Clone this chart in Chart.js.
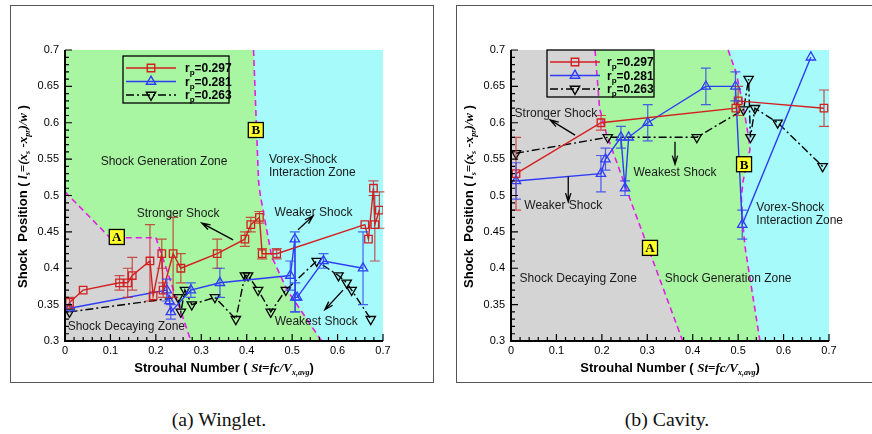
<!DOCTYPE html>
<html>
<head>
<meta charset="utf-8">
<title>Shock position vs Strouhal number</title>
<script src="https://cdn.jsdelivr.net/npm/chart.js@4.4.1/dist/chart.umd.min.js"></script>
<style>
  html, body { margin: 0; padding: 0; background: #fff; }
  #page { position: relative; width: 872px; height: 434px; overflow: hidden; }
  canvas { position: absolute; top: 0; }
  #c-winglet { left: 0; }
  #c-cavity { left: 440px; }
  .frame { position: absolute; border: 1.5px solid #555; box-sizing: border-box; }
  .caption { position: absolute; top: 410px; width: 200px; text-align: center; line-height: 22px;
             font: 18px "Liberation Serif", "Times New Roman", serif; color: #111;
             transform: scaleX(1.1); }
</style>
</head>
<body>
<div id="page">
  <div class="frame" style="left:10px;top:5px;width:424px;height:378px"></div>
  <div class="frame" style="left:456px;top:5px;width:430px;height:378px"></div>
  <canvas id="c-winglet" width="440" height="390"></canvas>
  <canvas id="c-cavity" width="432" height="390"></canvas>
  <div class="caption" style="left:119px">(a) Winglet.</div>
  <div class="caption" style="left:567px">(b) Cavity.</div>
</div>
<script>
const FONT  = '"Liberation Sans", Arial, sans-serif';
const SERIF = '"Liberation Serif", "Times New Roman", serif';

const xTicks = [0, 0.1, 0.2, 0.3, 0.4, 0.5, 0.6, 0.7];
const yTicks = [0.3, 0.35, 0.4, 0.45, 0.5, 0.55, 0.6, 0.65, 0.7];
const rpLabels = ['0.297', '0.281', '0.263'];

// ---- (a) winglet ----
const wRedX  = [0.010, 0.040, 0.120, 0.138, 0.148, 0.187, 0.194, 0.213, 0.216, 0.238, 0.255, 0.335, 0.396, 0.409, 0.428, 0.434, 0.466, 0.660, 0.668, 0.679, 0.682, 0.692];
const wRedY  = [0.353, 0.370, 0.380, 0.380, 0.390, 0.410, 0.362, 0.420, 0.370, 0.420, 0.400, 0.420, 0.440, 0.460, 0.470, 0.420, 0.420, 0.460, 0.440, 0.510, 0.460, 0.480];
const wRedLo = [0.345, null, 0.370, 0.360, 0.370, 0.355, null, 0.400, 0.360, 0.360, 0.380, 0.400, 0.430, 0.450, 0.462, 0.413, 0.413, null, null, 0.500, 0.410, 0.455];
const wRedHi = [0.360, null, 0.390, 0.400, 0.415, 0.460, null, 0.440, 0.380, 0.470, 0.420, 0.440, 0.450, 0.470, 0.478, 0.427, 0.427, null, null, 0.520, 0.500, 0.505];

const wBlueX  = [0.010, 0.224, 0.230, 0.233, 0.277, 0.341, 0.496, 0.506, 0.507, 0.511, 0.569, 0.656];
const wBlueY  = [0.345, 0.370, 0.355, 0.340, 0.370, 0.380, 0.390, 0.440, 0.360, 0.360, 0.410, 0.400];
const wBlueLo = [null, 0.355, null, 0.330, 0.360, 0.360, 0.370, 0.340, 0.340, null, 0.400, 0.350];
const wBlueHi = [null, 0.385, null, 0.350, 0.380, 0.400, 0.410, 0.450, 0.380, null, 0.420, 0.450];

const wBlackX = [0.010, 0.249, 0.255, 0.264, 0.279, 0.330, 0.376, 0.396, 0.403, 0.425, 0.453, 0.486, 0.554, 0.602, 0.620, 0.631, 0.673];
const wBlackY = [0.340, 0.360, 0.340, 0.370, 0.350, 0.360, 0.330, 0.390, 0.390, 0.370, 0.340, 0.370, 0.410, 0.390, 0.380, 0.370, 0.330];

// zone boundaries (dashed lines)
const wLineAX = [0, 0.099, 0.200, 0.277];
const wLineAY = [0.505, 0.442, 0.442, 0.300];
const wLineBX = [0.415, 0.426, 0.430, 0.455, 0.489, 0.554, 0.565];
const wLineBY = [0.700, 0.520, 0.500, 0.416, 0.370, 0.310, 0.300];

// ---- (b) cavity ----
const cRedX  = [0.011, 0.198, 0.495, 0.500, 0.689];
const cRedY  = [0.530, 0.600, 0.620, 0.630, 0.620];
const cRedLo = [0.480, 0.590, null, 0.610, 0.595];
const cRedHi = [0.580, 0.610, null, 0.650, 0.645];

const cBlueX  = [0.011, 0.198, 0.208, 0.242, 0.251, 0.259, 0.301, 0.429, 0.494, 0.509, 0.660];
const cBlueY  = [0.520, 0.530, 0.550, 0.580, 0.510, 0.580, 0.600, 0.650, 0.650, 0.460, 0.690];
const cBlueLo = [0.495, 0.505, 0.535, 0.565, 0.500, null, 0.575, 0.625, 0.630, 0.440, null];
const cBlueHi = [0.545, 0.555, 0.565, 0.595, 0.520, null, 0.625, 0.675, 0.670, 0.480, null];

const cBlackX = [0.011, 0.213, 0.409, 0.512, 0.523, 0.527, 0.537, 0.587, 0.686];
const cBlackY = [0.558, 0.580, 0.580, 0.618, 0.660, 0.580, 0.620, 0.600, 0.540];

const cLineAX = [0.185, 0.195, 0.210, 0.265, 0.378];
const cLineAY = [0.700, 0.620, 0.585, 0.490, 0.300];
const cLineBX = [0.478, 0.496, 0.512, 0.523, 0.526, 0.511, 0.507, 0.511, 0.515, 0.548];
const cLineBY = [0.700, 0.668, 0.620, 0.580, 0.563, 0.520, 0.498, 0.457, 0.430, 0.300];

const GRAY = '#d4d4d4', GREEN = '#a8f5a2', CYAN = '#a6fafa', MAGENTA = '#e41ee4';

const seriesStyle = [
  { color: '#d41f1f', err: 'rgba(196,40,40,0.8)', pointStyle: 'rect',     rotation: 0,   radius: 5.3, dash: [] },
  { color: '#2f3cf5', err: 'rgba(50,70,240,0.85)', pointStyle: 'triangle', rotation: 0,   radius: 5.4, dash: [] },
  { color: '#000000', err: '#000',                 pointStyle: 'triangle', rotation: 180, radius: 5.4, dash: [8, 3, 2, 3] }
];

const fmtTick = v => String(+(+v).toFixed(2));

function arrow(ctx, x1, y1, x2, y2) {
  const a = Math.atan2(y2 - y1, x2 - x1), h = 9;
  ctx.beginPath();
  ctx.moveTo(x1, y1); ctx.lineTo(x2, y2);
  ctx.moveTo(x2 - h * Math.cos(a - 0.3), y2 - h * Math.sin(a - 0.3));
  ctx.lineTo(x2, y2);
  ctx.lineTo(x2 - h * Math.cos(a + 0.3), y2 - h * Math.sin(a + 0.3));
  ctx.stroke();
}

// text made of pieces in different fonts, centred on cx
function richText(ctx, segs, cx, baseY) {
  let w = 0;
  segs.forEach(s => { ctx.font = s[1]; w += ctx.measureText(s[0]).width; });
  let x = cx - w / 2;
  ctx.textAlign = 'left'; ctx.textBaseline = 'alphabetic';
  segs.forEach(s => {
    ctx.font = s[1];
    ctx.fillText(s[0], x, baseY + (s[2] || 0));
    x += ctx.measureText(s[0]).width;
  });
}

const SB = 'bold 13px ' + FONT, MI = 'bold italic 13px ' + SERIF, MS = 'bold italic 8px ' + SERIF;
const yTitle = [['Shock  Position ( ', SB], ['l', MI], ['s', MS, 3], ['=(x', MI], ['s', MS, 3], [' -x', MI], ['pr', MS, 3], [')/w', MI], [' )', SB]];
const xTitle = [['Strouhal Number ( ', SB], ['St=fc/V', MI], ['x,avg', MS, 3], [')', SB]];

function panelPlugin(p) {
  return {
    id: 'panel' + p.name,
    beforeDatasetsDraw(chart) {
      const { ctx, chartArea: a } = chart;
      const X = v => chart.scales.x.getPixelForValue(v), Y = v => chart.scales.y.getPixelForValue(v);
      ctx.save();
      ctx.fillStyle = CYAN;
      ctx.fillRect(a.left, a.top, a.width, a.height);
      p.zones.forEach(z => {
        const pts = z.x.map((x, i) => [x, z.y[i]]).concat(z.close);
        ctx.beginPath();
        pts.forEach((q, i) => i ? ctx.lineTo(X(q[0]), Y(q[1])) : ctx.moveTo(X(q[0]), Y(q[1])));
        ctx.closePath();
        ctx.fillStyle = z.color;
        ctx.fill();
      });
      ctx.strokeStyle = MAGENTA; ctx.lineWidth = 1.6; ctx.setLineDash([6, 4]);
      p.zones.forEach(z => {
        ctx.beginPath();
        z.x.forEach((x, i) => i ? ctx.lineTo(X(x), Y(z.y[i])) : ctx.moveTo(X(x), Y(z.y[i])));
        ctx.stroke();
      });
      ctx.restore();
    },
    afterDatasetsDraw(chart) {
      const ctx = chart.ctx;
      const X = v => chart.scales.x.getPixelForValue(v), Y = v => chart.scales.y.getPixelForValue(v);
      ctx.save();
      ctx.lineWidth = 1.2;
      p.series.forEach((s, i) => {
        if (!s.lo) return;
        ctx.strokeStyle = seriesStyle[i].err;
        s.x.forEach((x, k) => {
          if (s.lo[k] == null) return;
          const px = X(x), y1 = Y(s.lo[k]), y2 = Y(s.hi[k]);
          ctx.beginPath();
          ctx.moveTo(px, y1); ctx.lineTo(px, y2);
          ctx.moveTo(px - 5, y1); ctx.lineTo(px + 5, y1);
          ctx.moveTo(px - 5, y2); ctx.lineTo(px + 5, y2);
          ctx.stroke();
        });
      });
      ctx.restore();
    },
    afterDraw(chart) {
      const { ctx, chartArea: a } = chart;
      const X = v => chart.scales.x.getPixelForValue(v), Y = v => chart.scales.y.getPixelForValue(v);
      ctx.save();

      // axis lines with inward ticks
      ctx.strokeStyle = '#000'; ctx.lineWidth = 2;
      ctx.beginPath();
      ctx.moveTo(a.left, a.top); ctx.lineTo(a.left, a.bottom); ctx.lineTo(a.right, a.bottom);
      ctx.stroke();
      ctx.lineWidth = 1.2;
      ctx.beginPath();
      for (let i = 0; i <= 40; i++) {
        const y = Y(0.3 + i * 0.01), len = i % 5 === 0 ? 7 : 4;
        ctx.moveTo(a.left, y); ctx.lineTo(a.left + len, y);
      }
      for (let i = 0; i <= 35; i++) {
        const x = X(i * 0.02), len = i % 5 === 0 ? 7 : 4;
        ctx.moveTo(x, a.bottom); ctx.lineTo(x, a.bottom - len);
      }
      ctx.stroke();

      // zone and shock notes
      ctx.fillStyle = '#1a1a1a';
      ctx.font = '12px ' + FONT;
      ctx.textBaseline = 'middle';
      p.notes.forEach(n => {
        ctx.textAlign = n[3];
        ctx.fillText(n[0], X(n[1]), Y(n[2]));
      });
      ctx.strokeStyle = '#000'; ctx.lineWidth = 1.3;
      p.arrows.forEach(r => arrow(ctx, X(r[0]), Y(r[1]), X(r[2]), Y(r[3])));

      // A / B tags
      p.boxes.forEach(b => {
        const cx = X(b[1]), cy = Y(b[2]);
        ctx.fillStyle = '#ffff2a';
        ctx.fillRect(cx - 7.5, cy - 7.5, 15, 15);
        ctx.lineWidth = 1.3; ctx.strokeStyle = '#000';
        ctx.strokeRect(cx - 7.5, cy - 7.5, 15, 15);
        ctx.fillStyle = '#000';
        ctx.font = 'bold 13px ' + SERIF;
        ctx.textAlign = 'center'; ctx.textBaseline = 'middle';
        ctx.fillText(b[0], cx, cy + 1);
      });

      // legend
      const lx = a.left + p.legend[0], ly = a.top + p.legend[1];
      ctx.lineWidth = 1.3; ctx.strokeStyle = '#000';
      ctx.strokeRect(lx, ly, p.legend[2], p.legend[3]);
      rpLabels.forEach((lab, i) => {
        const st = seriesStyle[i], ry = ly + 12 + i * 13.5;
        ctx.save();
        ctx.strokeStyle = st.color; ctx.lineWidth = 1.4; ctx.setLineDash(st.dash);
        ctx.beginPath(); ctx.moveTo(lx + 3, ry); ctx.lineTo(lx + 53, ry); ctx.stroke();
        ctx.setLineDash([]);
        ctx.fillStyle = 'rgba(0,0,0,0)';
        Chart.helpers.drawPoint(ctx, { pointStyle: st.pointStyle, rotation: st.rotation, radius: st.radius, borderWidth: 1.3 }, lx + 28, ry);
        ctx.restore();
        ctx.fillStyle = '#000';
        ctx.textAlign = 'left'; ctx.textBaseline = 'alphabetic';
        let tx = lx + p.legendText;
        ctx.font = 'bold 12px ' + FONT; ctx.fillText('r', tx, ry + 4); tx += ctx.measureText('r').width;
        ctx.font = 'bold 8px ' + FONT; ctx.fillText('p', tx, ry + 7); tx += ctx.measureText('p').width;
        ctx.font = 'bold 12px ' + FONT; ctx.fillText('=' + lab, tx, ry + 4);
      });

      // axis titles
      ctx.fillStyle = '#000';
      richText(ctx, xTitle, (a.left + a.right) / 2, 372);
      ctx.save();
      ctx.translate(a.left - 43, (a.top + a.bottom) / 2 + 1);
      ctx.rotate(-Math.PI / 2);
      richText(ctx, yTitle, 0, 4.5);
      ctx.restore();

      ctx.restore();
    }
  };
}

function buildPanel(id, p) {
  const datasets = p.series.map((s, i) => {
    const st = seriesStyle[i];
    return {
      data: s.x.map((x, k) => ({ x, y: s.y[k] })),
      showLine: true,
      borderColor: st.color, borderWidth: 1.4, borderDash: st.dash,
      pointStyle: st.pointStyle, pointRotation: st.rotation, pointRadius: st.radius,
      pointBorderColor: st.color, pointBackgroundColor: 'rgba(0,0,0,0)', pointBorderWidth: 1.3,
      tension: 0
    };
  });
  return new Chart(document.getElementById(id), {
    type: 'scatter',
    data: { datasets },
    options: {
      responsive: false, animation: false, devicePixelRatio: 1,
      layout: { padding: { left: 0, top: 50, right: p.padRight, bottom: 0 } },
      plugins: { legend: { display: false }, tooltip: { enabled: false } },
      scales: {
        x: {
          type: 'linear', min: 0, max: 0.7,
          afterFit: s => { s.height = 49; },
          afterBuildTicks: s => { s.ticks = xTicks.map(v => ({ value: v })); },
          grid: { display: false, drawTicks: false }, border: { display: false },
          ticks: { padding: 3, color: '#000', autoSkip: false, maxRotation: 0,
                   font: { family: FONT, size: 11 }, callback: fmtTick }
        },
        y: {
          type: 'linear', min: 0.3, max: 0.7,
          afterFit: s => { s.width = p.yWidth; },
          afterBuildTicks: s => { s.ticks = yTicks.map(v => ({ value: v })); },
          grid: { display: false, drawTicks: false }, border: { display: false },
          ticks: { padding: 6, color: '#000', autoSkip: false,
                   font: { family: FONT, size: 11 }, callback: fmtTick }
        }
      }
    },
    plugins: [panelPlugin(p)]
  });
}

buildPanel('c-winglet', {
  name: 'Winglet', padRight: 57, yWidth: 65,
  series: [
    { x: wRedX, y: wRedY, lo: wRedLo, hi: wRedHi },
    { x: wBlueX, y: wBlueY, lo: wBlueLo, hi: wBlueHi },
    { x: wBlackX, y: wBlackY }
  ],
  zones: [
    { x: wLineBX, y: wLineBY, close: [[0, 0.3], [0, 0.7]], color: GREEN },
    { x: wLineAX, y: wLineAY, close: [[0, 0.3]], color: GRAY }
  ],
  notes: [
    ['Shock Generation Zone', 0.218, 0.546, 'center'],
    ['Vorex-Shock', 0.449, 0.549, 'left'],
    ['Interaction Zone', 0.449, 0.532, 'left'],
    ['Stronger Shock', 0.249, 0.475, 'center'],
    ['Weaker Shock', 0.547, 0.477, 'center'],
    ['Weakest Shock', 0.553, 0.327, 'center'],
    ['Shock Decaying Zone', 0.135, 0.319, 'center']
  ],
  arrows: [[0.370, 0.439, 0.301, 0.462], [0.513, 0.453, 0.546, 0.472], [0.612, 0.370, 0.572, 0.343]],
  boxes: [['A', 0.114, 0.443], ['B', 0.420, 0.590]],
  legend: [58, 6, 106, 47], legendText: 62
});

buildPanel('c-cavity', {
  name: 'Cavity', padRight: 43, yWidth: 71,
  series: [
    { x: cRedX, y: cRedY, lo: cRedLo, hi: cRedHi },
    { x: cBlueX, y: cBlueY, lo: cBlueLo, hi: cBlueHi },
    { x: cBlackX, y: cBlackY }
  ],
  zones: [
    { x: cLineBX, y: cLineBY, close: [[0, 0.3], [0, 0.7]], color: GREEN },
    { x: cLineAX, y: cLineAY, close: [[0, 0.3], [0, 0.7]], color: GRAY }
  ],
  notes: [
    ['Stronger Shock', 0.099, 0.613, 'center'],
    ['Weaker Shock', 0.115, 0.486, 'center'],
    ['Weakest Shock', 0.361, 0.532, 'center'],
    ['Shock Decaying Zone', 0.148, 0.385, 'center'],
    ['Shock Generation Zone', 0.478, 0.385, 'center'],
    ['Vorex-Shock', 0.540, 0.483, 'left'],
    ['Interaction Zone', 0.540, 0.466, 'left']
  ],
  arrows: [[0.141, 0.583, 0.086, 0.604], [0.126, 0.526, 0.126, 0.4915], [0.361, 0.574, 0.361, 0.543]],
  boxes: [['A', 0.306, 0.428], ['B', 0.513, 0.543]],
  legend: [36, 0, 107, 47], legendText: 60
});
</script>
</body>
</html>
